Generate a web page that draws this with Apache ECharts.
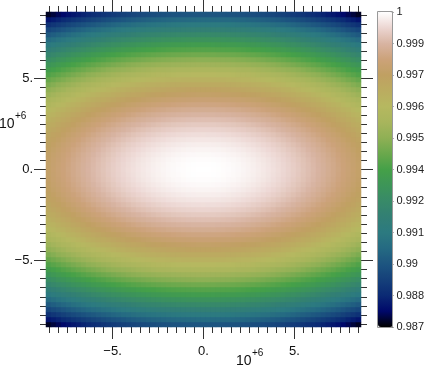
<!DOCTYPE html>
<html>
<head>
<meta charset="utf-8">
<script src="https://cdn.jsdelivr.net/npm/echarts@6/dist/echarts.min.js"></script>
<style>html,body{margin:0;padding:0;background:#fff;}#c{width:427px;height:368px;}</style>
</head>
<body>
<div id="c"></div>
<script>
// Deficit profiles (units of 1e-4), one value per cell (63 cells),
// from the -8.66e6 edge to the +8.66e6 edge.
var xDeficit = [23.97,22.45,20.98,19.55,18.18,16.86,15.59,14.37,13.19,12.07,11.00,9.98,9.00,8.08,7.21,6.38,5.61,4.89,4.22,3.59,3.02,2.49,2.02,1.60,1.22,0.90,0.62,0.40,0.22,0.10,0.02,
                0,
                0.02,0.10,0.22,0.40,0.62,0.90,1.22,1.60,2.02,2.49,3.02,3.59,4.22,4.89,5.61,6.38,7.21,8.08,9.00,9.98,11.00,12.07,13.19,14.37,15.59,16.86,18.18,19.55,20.98,22.45,23.97];
var yDeficit = [103.86,97.27,90.90,84.73,78.79,73.06,67.55,62.25,57.17,52.31,47.66,43.23,39.02,35.02,31.24,27.67,24.32,21.18,18.27,15.56,13.08,10.81,8.75,6.92,5.30,3.89,2.70,1.73,0.97,0.43,0.11,
                0,
                0.11,0.43,0.97,1.73,2.70,3.89,5.30,6.92,8.75,10.81,13.08,15.56,18.27,21.18,24.32,27.67,31.24,35.02,39.02,43.23,47.66,52.31,57.17,62.25,67.55,73.06,78.79,84.73,90.90,97.27,103.86];
var peakValue = 1;
var axisExtent = [-8.66, 8.66];           // in units of 1e6
var majorTickValues = [-5, 0, 5];
var majorTickLabels = ['\u22125.', '0.', '5.'];
var minorTickValues = [-8.5,-8,-7.5,-7,-6.5,-6,-5.5,-4.5,-4,-3.5,-3,-2.5,-2,-1.5,-1,-0.5,0.5,1,1.5,2,2.5,3,3.5,4,4.5,5.5,6,6.5,7,7.5,8,8.5];
var colorbarMin = 0.987, colorbarMax = 1;
var colorbarLabels = ['0.987','0.988','0.99','0.991','0.992','0.994','0.995','0.996','0.997','0.999','1'];
var palette = ['#000000','#00086a','#0b2a74','#15407a','#1d5580','#256a82','#2c7a80','#327f74','#388a68','#3d9558','#45a048',
               '#6aa84c','#8fb055','#a8b55c','#b6b860','#bbac60','#c0a062','#cca27a','#d8b4a2','#ecd6d2','#ffffff'];

var cells = [];
for (var i = 0; i < xDeficit.length; i++) {
  for (var j = 0; j < yDeficit.length; j++) {
    cells.push([i, j, peakValue - (xDeficit[i] + yDeficit[j]) * 1e-4]);
  }
}
var idx = xDeficit.map(function (_, k) { return k; });
var F = 'Liberation Sans';
var tickColor = '#333';
function lab(v) { var k = majorTickValues.indexOf(v); return k >= 0 ? majorTickLabels[k] : ''; }

var plotRect = { left: 46, top: 12, width: 315, height: 315 };
function g() { return { left: plotRect.left, top: plotRect.top, width: plotRect.width, height: plotRect.height }; }

function valAxis(gi, pos, major, withLabels, isY) {
  return {
    type: 'value', gridIndex: gi, position: pos,
    min: axisExtent[0], max: axisExtent[1],
    axisLine: { show: false, onZero: false }, splitLine: { show: false },
    axisTick: { show: true, inside: false, length: major ? 12 : 6,
      customValues: major ? majorTickValues : minorTickValues,
      lineStyle: { color: tickColor, width: 1 } },
    axisLabel: { show: withLabels, customValues: majorTickValues, formatter: lab,
      fontFamily: F, fontSize: 13, color: '#111', margin: isY ? 13 : 18 }
  };
}

var chart = echarts.init(document.getElementById('c'), null, { renderer: 'canvas' });
chart.setOption({
  animation: false,
  backgroundColor: '#fff',
  grid: [ g(), g(), g(), g(), g(),
    { left: 378, top: 12, width: 15, height: 315 } ],
  xAxis: [
    { type: 'category', gridIndex: 0, data: idx, show: false },
    valAxis(1, 'bottom', false, false),
    valAxis(2, 'bottom', true, true),
    valAxis(3, 'top', false, false),
    valAxis(4, 'top', true, false),
    { type: 'value', gridIndex: 5, show: false, min: 0, max: 1 }
  ],
  yAxis: [
    { type: 'category', gridIndex: 0, data: idx, show: false },
    valAxis(1, 'left', false, false, true),
    valAxis(2, 'left', true, true, true),
    valAxis(3, 'right', false, false, true),
    valAxis(4, 'right', true, false, true),
    { type: 'value', gridIndex: 5, position: 'right', min: 0, max: colorbarLabels.length - 1, interval: 1,
      axisLine: { show: true, onZero: false, lineStyle: { color: '#555', width: 1 } },
      axisTick: { show: true, inside: false, length: 5, lineStyle: { color: '#555' } },
      splitLine: { show: false },
      axisLabel: { fontFamily: F, fontSize: 11, color: '#222', margin: 8,
        formatter: function (v) { return colorbarLabels[Math.round(v)]; } } }
  ],
  visualMap: {
    type: 'continuous', seriesIndex: 0, min: colorbarMin, max: colorbarMax,
    orient: 'vertical', left: 378, top: 12, itemWidth: 15, itemHeight: 315,
    padding: 0, calculable: false, showLabel: false,
    inRange: { color: palette }
  },
  graphic: [
    { type: 'rect', shape: { x: 377.5, y: 11.5, width: 15, height: 316 }, style: { fill: 'none', stroke: '#999', lineWidth: 1 }, z: 100 },
    { type: 'text', x: -1, y: 117, style: { text: '10', font: '14px "Liberation Sans"', fill: '#111' }, z: 100 },
    { type: 'text', x: 15, y: 111, style: { text: '+6', font: '10px "Liberation Sans"', fill: '#111' }, z: 100 },
    { type: 'text', x: 236, y: 354, style: { text: '10', font: '14px "Liberation Sans"', fill: '#111' }, z: 100 },
    { type: 'text', x: 252, y: 348, style: { text: '+6', font: '10px "Liberation Sans"', fill: '#111' }, z: 100 }
  ],
  series: [{
    type: 'heatmap', xAxisIndex: 0, yAxisIndex: 0, data: cells,
    progressive: 0, itemStyle: { borderWidth: 0 }, emphasis: { disabled: true }
  }]
});
</script>
</body>
</html>
